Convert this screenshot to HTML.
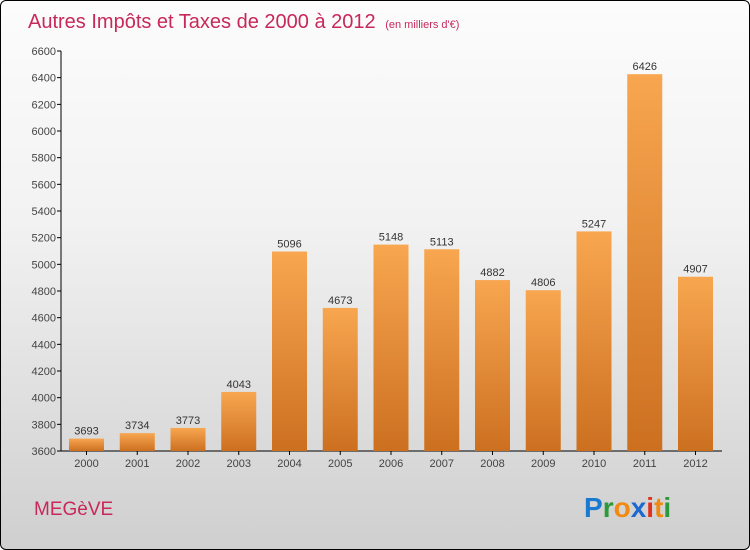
<!DOCTYPE html>
<html><head><meta charset="utf-8"><style>
body{margin:0;width:750px;height:550px;overflow:hidden;font-family:"Liberation Sans",sans-serif}
#wrap{position:absolute;left:0;top:0;width:748px;height:548px;border:1px solid #000;border-radius:6px;background:linear-gradient(#fcfcfc,#f2f2f2 40%,#cfcfcf);overflow:hidden}
</style></head><body>
<div id="wrap">
<svg width="750" height="550">
<defs><linearGradient id="bg" x1="0" y1="0" x2="0" y2="1"><stop offset="0" stop-color="#f8a650"/><stop offset="1" stop-color="#cc7020"/></linearGradient></defs>
<text x="27" y="27" font-size="20" fill="#c8285a">Autres Impôts et Taxes de 2000 à 2012 <tspan font-size="11" dx="4">(en milliers d'€)</tspan></text>
<g id="axes"></g><g id="bars"></g>
<text x="33" y="514" font-size="19" fill="#c8285a">MEGèVE</text>
<g font-size="28" font-weight="bold">
<text x="583" y="516" fill="#1a7ad0">P<tspan fill="#2a9a3a">r</tspan><tspan fill="#f08a10">o</tspan><tspan fill="#1a6ad0">x</tspan><tspan fill="#e03020">i</tspan><tspan fill="#f08a10">t</tspan><tspan fill="#2a9a3a">i</tspan></text></g>
</svg></div>
<script>
const years=["2000","2001","2002","2003","2004","2005","2006","2007","2008","2009","2010","2011","2012"];
const values=[3693,3734,3773,4043,5096,4673,5148,5113,4882,4806,5247,6426,4907];
const ticks=[3600,3800,4000,4200,4400,4600,4800,5000,5200,5400,5600,5800,6000,6200,6400,6600];
const ns="http://www.w3.org/2000/svg";
const y=v=>450-(v-3600)*400/3000;
const x=i=>85.5+i*50.75;
function mk(t,a,p){const e=document.createElementNS(ns,t);for(const k in a)e.setAttribute(k,a[k]);p.appendChild(e);return e;}
const ax=document.getElementById('axes'),bs=document.getElementById('bars');
let l=mk('line',{x1:60,y1:50,x2:60,y2:450,stroke:'#000'},ax);


l=mk('line',{x1:60,y1:450,x2:721,y2:450,stroke:'#000'},ax);


ticks.forEach(t=>{mk('line',{x1:56,x2:60,y1:y(t),y2:y(t),stroke:'#000'},ax);
const e=mk('text',{x:55,y:y(t)+4,'font-size':11,fill:'#444','text-anchor':'end'},ax);e.textContent=t;

});
years.forEach((yr,i)=>{const v=values[i];
const r=mk('rect',{x:x(i)-17.5,y:y(v),width:35,height:450-y(v),fill:'url(#bg)'},bs);


const t=mk('text',{x:x(i),y:y(v)-4,'font-size':11,fill:'#333','text-anchor':'middle'},bs);t.textContent=v;


mk('line',{x1:x(i),x2:x(i),y1:450,y2:454,stroke:'#000'},ax);
const k=mk('text',{x:x(i),y:466,'font-size':11,fill:'#444','text-anchor':'middle'},ax);k.textContent=yr;

});
</script>
</body></html>
